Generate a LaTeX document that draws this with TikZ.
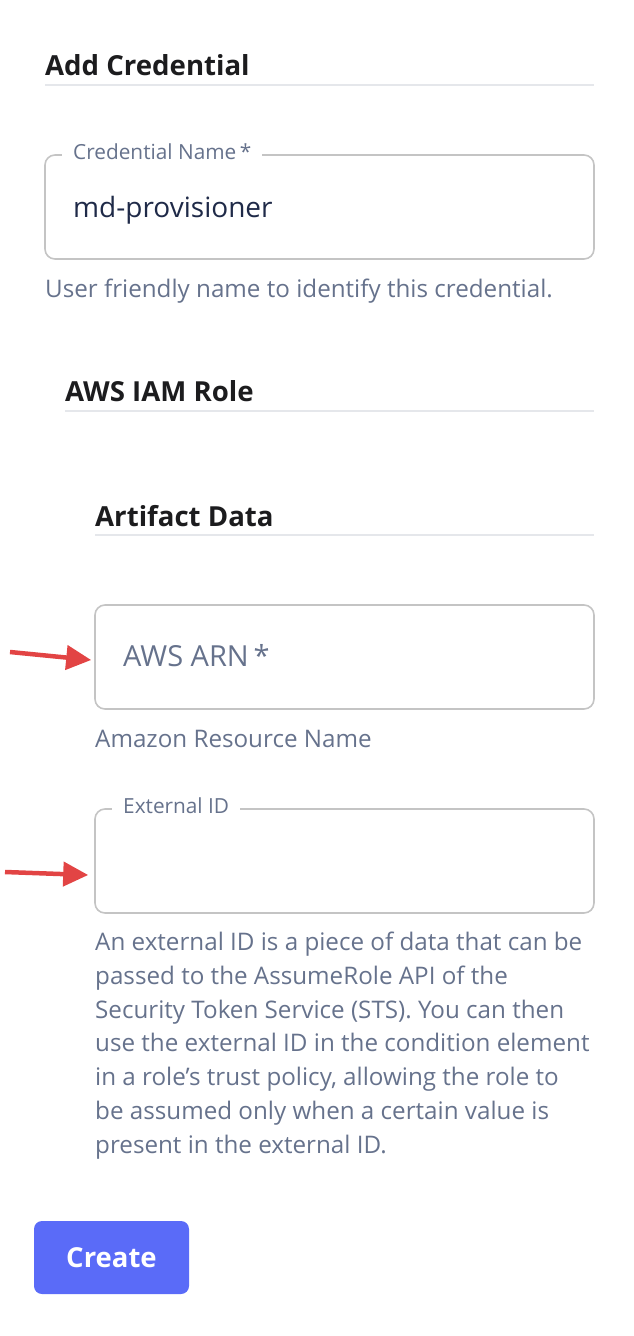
\documentclass[tikz,border=0pt]{standalone}
\usepackage{fontspec}
\setmainfont{Open Sans}
\usetikzlibrary{arrows.meta}

\definecolor{headtext}{HTML}{1C1C1E}
\definecolor{hinttext}{HTML}{66728C}
\definecolor{inputtext}{HTML}{1F2A48}
\definecolor{boxline}{HTML}{C4C4C4}
\definecolor{ruleline}{HTML}{E5E7EB}
\definecolor{btnblue}{HTML}{5A6BF8}
\definecolor{markred}{HTML}{E24444}

\begin{document}
\begin{tikzpicture}[
    x=1pt, y=-1pt,
    heading/.style={anchor=base west, inner sep=0pt, text=headtext, font=\fontsize{27.6}{32}\selectfont\bfseries},
    field/.style={draw=boxline, line width=1.6pt, rounded corners=10pt, minimum height=104pt, inner sep=0pt},
    legend/.style={anchor=base west, fill=white, inner xsep=11pt, inner ysep=2pt, text=hinttext, font=\fontsize{20.8}{24}\selectfont},
    entry/.style={anchor=base west, inner sep=0pt, font=\fontsize{28}{32}\selectfont},
    hint/.style={anchor=base west, inner sep=0pt, text=hinttext, font=\fontsize{24.2}{33.7}\selectfont},
    divider/.style={draw=ruleline, line width=1.5pt},
    pointer/.style={-{Triangle[length=25pt, width=24pt]}, draw=markred, fill=markred, line width=4.5pt},
    button/.style={fill=btnblue, rounded corners=8pt, minimum width=155pt, minimum height=73pt, text=white, font=\fontsize{27.5}{32}\selectfont\bfseries}
]
\useasboundingbox (0,0) rectangle (634,1336);

% Title sections
\node[heading] (addcred) at (45,75) {Add Credential};
\draw[divider] (45,85) -- (594,85);

% Credential name field
\node[field, minimum width=549pt] (namebox) at (319.5,207) {};
\node[legend] (namelabel) at (62,159) {Credential Name\,*};
\node[entry, text=inputtext] (nametext) at (73,217) {md-provisioner};
\node[hint] (namehint) at (45,297) {User friendly name to identify this credential.};

% Sub sections
\node[heading] (iamrole) at (65,401) {AWS IAM Role};
\draw[divider] (65,411) -- (594,411);
\node[heading] (artifact) at (95,526) {Artifact Data};
\draw[divider] (95,535) -- (594,535);

% ARN field
\node[field, minimum width=499pt] (arnbox) at (344.5,657) {};
\node[entry, text=hinttext, font=\fontsize{29}{32}\selectfont] (arntext) at (123,666) {AWS ARN\,*};
\node[hint] (arnhint) at (95,747) {Amazon Resource Name};

% External ID field
\node[field, minimum width=499pt] (extbox) at (344.5,861) {};
\node[legend] (extlabel) at (112,813) {External ID};
\node[hint, align=left] (exthint) at (95,1153) {An external ID is a piece of data that can be\\
    passed to the AssumeRole API of the\\
    Security Token Service (STS). You can then\\
    use the external ID in the condition element\\
    in a role's trust policy, allowing the role to\\
    be assumed only when a certain value is\\
    present in the external ID.};

% Red pointers
\coordinate (arntail) at (10,652);
\coordinate (exttail) at (5,872);
\draw[pointer] (arntail) -- ([xshift=-3pt,yshift=-3pt]arnbox.west);
\draw[pointer] (exttail) -- ([xshift=-6pt,yshift=-14pt]extbox.west);

% Button
\node[button] (create) at (111.5,1257.5) {Create};

\end{tikzpicture}
\end{document}
